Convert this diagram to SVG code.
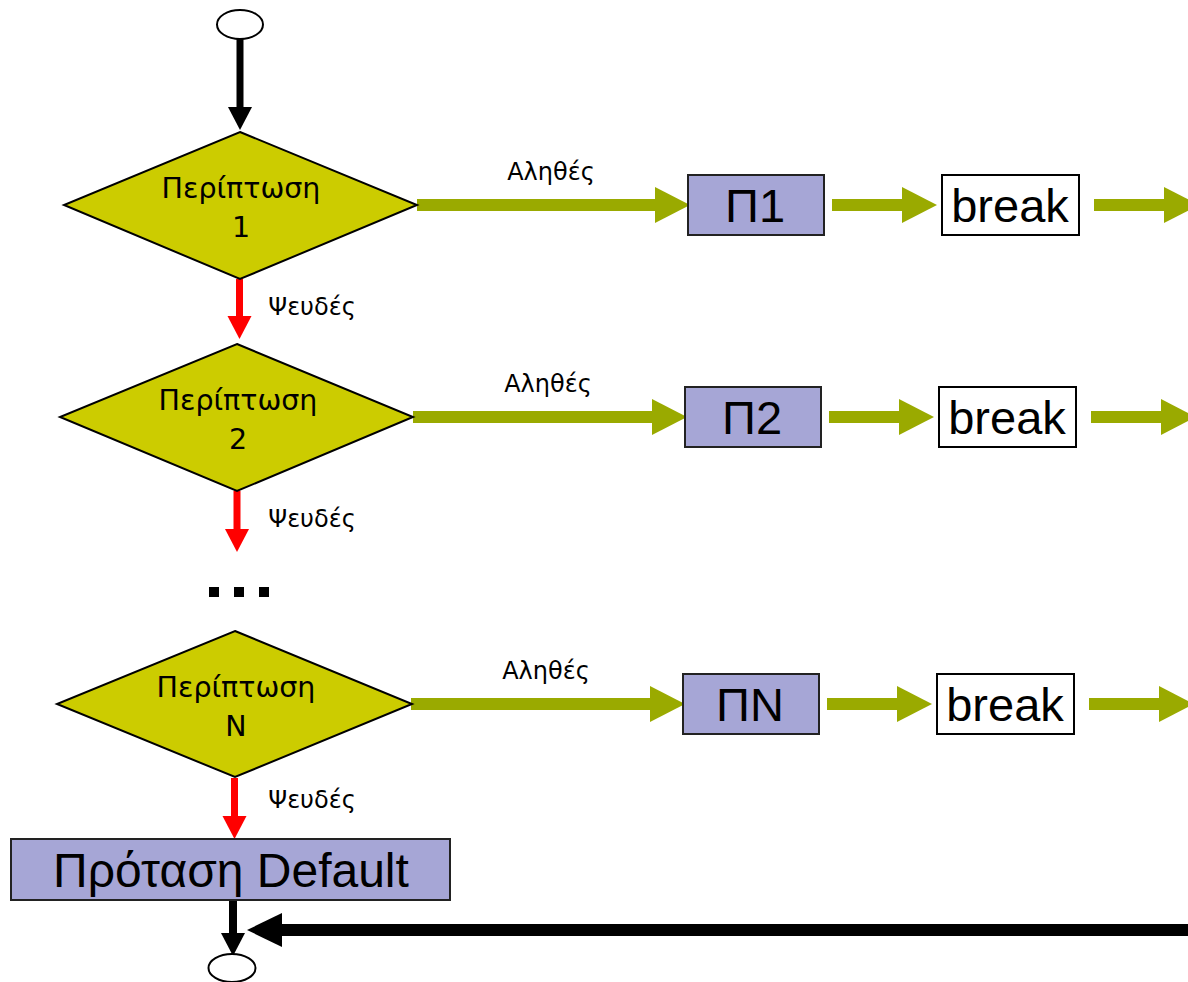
<svg xmlns="http://www.w3.org/2000/svg" width="1188" height="982" viewBox="0 0 1188 982">
  <style>
    .cond { fill: #CCCC00; stroke: #000; stroke-width: 2; stroke-linejoin: miter; }
    .stmt { fill: #A6A6D6; stroke: #222; stroke-width: 2; }
    .brk { fill: #fff; stroke: #000; stroke-width: 2; }
    .term { fill: #fff; stroke: #000; stroke-width: 2; }
    .ctext { font-family: "DejaVu Sans", sans-serif; font-size: 28.5px; fill: #000; text-anchor: middle; }
    .lbl { font-family: "DejaVu Sans", sans-serif; font-size: 24px; fill: #000; text-anchor: middle; }
    .big { font-family: "Liberation Sans", Arial, sans-serif; font-size: 47px; fill: #000; text-anchor: middle; }
    .def { font-size: 48px; }
    .green { stroke: #9AAA00; stroke-width: 12; fill: none; }
    .red { stroke: #FF0000; stroke-width: 7; fill: none; }
    .black { stroke: #000; fill: none; }
  </style>
  <defs>
    <marker id="headGreen" markerUnits="userSpaceOnUse" viewBox="0 0 35 36" markerWidth="35" markerHeight="36" refX="0" refY="18" orient="auto" overflow="visible">
      <path d="M0,0 L35,18 L0,36 Z" fill="#9AAA00"/>
    </marker>
    <marker id="headRed" markerUnits="userSpaceOnUse" viewBox="0 0 23 24" markerWidth="23" markerHeight="24" refX="0" refY="12" orient="auto" overflow="visible">
      <path d="M0,0 L23,12 L0,24 Z" fill="#FF0000"/>
    </marker>
    <marker id="headBlackS" markerUnits="userSpaceOnUse" viewBox="0 0 23 24" markerWidth="23" markerHeight="24" refX="0" refY="12" orient="auto" overflow="visible">
      <path d="M0,0 L23,12 L0,24 Z" fill="#000"/>
    </marker>
    <marker id="headBlackL" markerUnits="userSpaceOnUse" viewBox="0 0 35 34" markerWidth="35" markerHeight="34" refX="0" refY="17" orient="auto" overflow="visible">
      <path d="M0,0 L35,17 L0,34 Z" fill="#000"/>
    </marker>
  </defs>

  <!-- connectors -->
  <g id="connectors">
    <!-- start to first case -->
    <path class="black" stroke-width="7" d="M240,39 V107" marker-end="url(#headBlackS)"/>

    <!-- case 1 row -->
    <path class="green" d="M417,205 H655" marker-end="url(#headGreen)"/>
    <path class="green" d="M832,205 H902" marker-end="url(#headGreen)"/>
    <path class="green" d="M1094,205 H1164" marker-end="url(#headGreen)"/>
    <path class="red" d="M239.5,279 V316" marker-end="url(#headRed)"/>

    <!-- case 2 row -->
    <path class="green" d="M413,417 H652" marker-end="url(#headGreen)"/>
    <path class="green" d="M829,417 H899" marker-end="url(#headGreen)"/>
    <path class="green" d="M1091,417 H1161" marker-end="url(#headGreen)"/>
    <path class="red" d="M237,491 V529" marker-end="url(#headRed)"/>

    <!-- case N row -->
    <path class="green" d="M411,704 H650" marker-end="url(#headGreen)"/>
    <path class="green" d="M827,704 H897" marker-end="url(#headGreen)"/>
    <path class="green" d="M1089,704 H1159" marker-end="url(#headGreen)"/>
    <path class="red" d="M234.5,778 V816" marker-end="url(#headRed)"/>

    <!-- default to end, and return line from the breaks -->
    <path class="black" stroke-width="8" d="M233,900 V933" marker-end="url(#headBlackS)"/>
    <path class="black" stroke-width="12" d="M1200,930 H282" marker-end="url(#headBlackL)"/>

    <!-- edge labels -->
    <text class="lbl" x="551" y="180">Αληθές</text>
    <text class="lbl" x="548" y="392">Αληθές</text>
    <text class="lbl" x="546" y="679">Αληθές</text>
    <text class="lbl" x="312" y="315">Ψευδές</text>
    <text class="lbl" x="312" y="527">Ψευδές</text>
    <text class="lbl" x="312" y="808">Ψευδές</text>
  </g>

  <!-- start terminal -->
  <g id="start">
    <ellipse class="term" cx="240" cy="24.5" rx="23" ry="14.5"/>
  </g>

  <!-- case 1 -->
  <g id="case1">
    <polygon class="cond" points="240,132 417,205 240,279 64,205"/>
    <text class="ctext" x="241" y="198">Περίπτωση</text>
    <text class="ctext" x="241" y="237">1</text>
  </g>
  <g id="stmt1">
    <rect class="stmt" x="688" y="175" width="136" height="60"/>
    <text class="big" x="755" y="222">Π1</text>
  </g>
  <g id="break1">
    <rect class="brk" x="942" y="175" width="137" height="60"/>
    <text class="big" x="1010" y="222">break</text>
  </g>

  <!-- case 2 -->
  <g id="case2">
    <polygon class="cond" points="237,344 413,417 237,491 60,417"/>
    <text class="ctext" x="238" y="410">Περίπτωση</text>
    <text class="ctext" x="238" y="449">2</text>
  </g>
  <g id="stmt2">
    <rect class="stmt" x="685" y="387" width="136" height="60"/>
    <text class="big" x="752" y="434">Π2</text>
  </g>
  <g id="break2">
    <rect class="brk" x="939" y="387" width="137" height="60"/>
    <text class="big" x="1007" y="434">break</text>
  </g>

  <!-- ellipsis between cases -->
  <g id="ellipsis">
    <rect x="209" y="587" width="10" height="10" fill="#000"/>
    <rect x="234" y="587" width="10" height="10" fill="#000"/>
    <rect x="259" y="587" width="10" height="10" fill="#000"/>
  </g>

  <!-- case N -->
  <g id="caseN">
    <polygon class="cond" points="235,631 412,704 235,777 57,704"/>
    <text class="ctext" x="236" y="697">Περίπτωση</text>
    <text class="ctext" x="236" y="736">N</text>
  </g>
  <g id="stmtN">
    <rect class="stmt" x="683" y="674" width="136" height="60"/>
    <text class="big" x="750" y="721">ΠN</text>
  </g>
  <g id="breakN">
    <rect class="brk" x="937" y="674" width="137" height="60"/>
    <text class="big" x="1005" y="721">break</text>
  </g>

  <!-- default statement -->
  <g id="default">
    <rect class="stmt" x="11" y="839" width="439" height="61"/>
    <text class="big def" x="231" y="887">Πρόταση Default</text>
  </g>

  <!-- end terminal -->
  <g id="end">
    <ellipse class="term" cx="232" cy="968" rx="23.5" ry="14"/>
  </g>
</svg>
